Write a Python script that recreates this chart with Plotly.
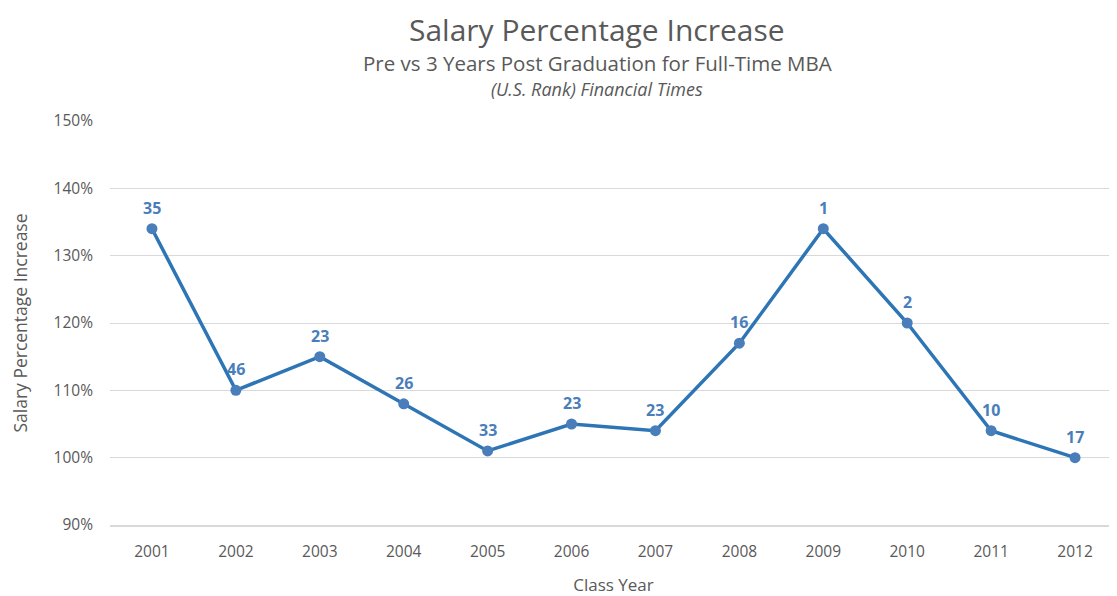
import plotly.graph_objects as go

years = [2001, 2002, 2003, 2004, 2005, 2006, 2007, 2008, 2009, 2010, 2011, 2012]
salary_increase = [1.34, 1.10, 1.15, 1.08, 1.01, 1.05, 1.04, 1.17, 1.34, 1.20, 1.04, 1.00]
us_rank = ["35", "46", "23", "26", "33", "23", "23", "16", "1", "2", "10", "17"]
y_ticks = [0.9, 1.0, 1.1, 1.2, 1.3, 1.4, 1.5]

FONT = "Open Sans"
GREY = "#595959"
OFF = 8  # page body margin
FW, FH = 1117 - OFF, 596 - OFF
L, T, R, B = 110 - OFF, 121 - OFF, 0, 596 - 525
PW, PH = FW - L - R, FH - T - B

def px(xp):
    return (xp - OFF - L) / PW

def py(yp):
    return (FH - B - (yp - OFF)) / PH

fig = go.Figure()
fig.add_trace(go.Scatter(
    x=years, y=salary_increase, mode="lines+markers",
    line=dict(color="#2E75B6", width=3.5),
    marker=dict(color="#4A7EBB", size=11),
    cliponaxis=False, showlegend=False,
))
for yr, v, r in zip(years, salary_increase, us_rank):
    fig.add_annotation(x=yr, y=v, xref="x", yref="y", text="<b>%s</b>" % r, showarrow=False,
                       yshift=21, font=dict(family=FONT, size=16, color="#4A7EBB"))

fig.update_layout(
    width=FW, height=FH,
    margin=dict(l=L, r=R, t=T, b=B, autoexpand=False),
    plot_bgcolor="white", paper_bgcolor="white",
    font=dict(family=FONT, color=GREY),
    xaxis=dict(range=[years[0] - 0.5, years[-1] + 0.5], tickvals=years,
               ticktext=[str(y) for y in years], showgrid=False, zeroline=False,
               showline=True, linecolor="#d9d9d9", linewidth=1.5,
               ticks="", ticklabelstandoff=12, tickfont=dict(size=15.5, color=GREY),
               title=dict(text="Class Year", font=dict(size=17, color=GREY), standoff=18)),
    yaxis=dict(range=[0.9, 1.5], tickvals=y_ticks, tickformat=".0%",
               showgrid=True, gridcolor="#d9d9d9", gridwidth=1, zeroline=False,
               ticks="", ticklabelstandoff=16, tickfont=dict(size=15.5, color=GREY),
               title=dict(text="Salary Percentage Increase", font=dict(size=17.5, color=GREY), standoff=23)),
)

titles = [
    ("Salary Percentage Increase", 8, 30, "top", 0),
    ("Pre vs 3 Years Post Graduation for Full-Time MBA", 63, 20.5, "middle", 1),
    ("<i>(U.S. Rank) Financial Times</i>", 89, 18, "middle", 1),
]
for txt, yp, s, anc, pad in titles:
    fig.add_annotation(text=txt, x=px(597), y=py(yp), xref="paper", yref="paper",
                       xanchor="center", yanchor=anc, showarrow=False, borderpad=pad,
                       font=dict(family=FONT, size=s, color=GREY))

fig.write_html("out.html")
